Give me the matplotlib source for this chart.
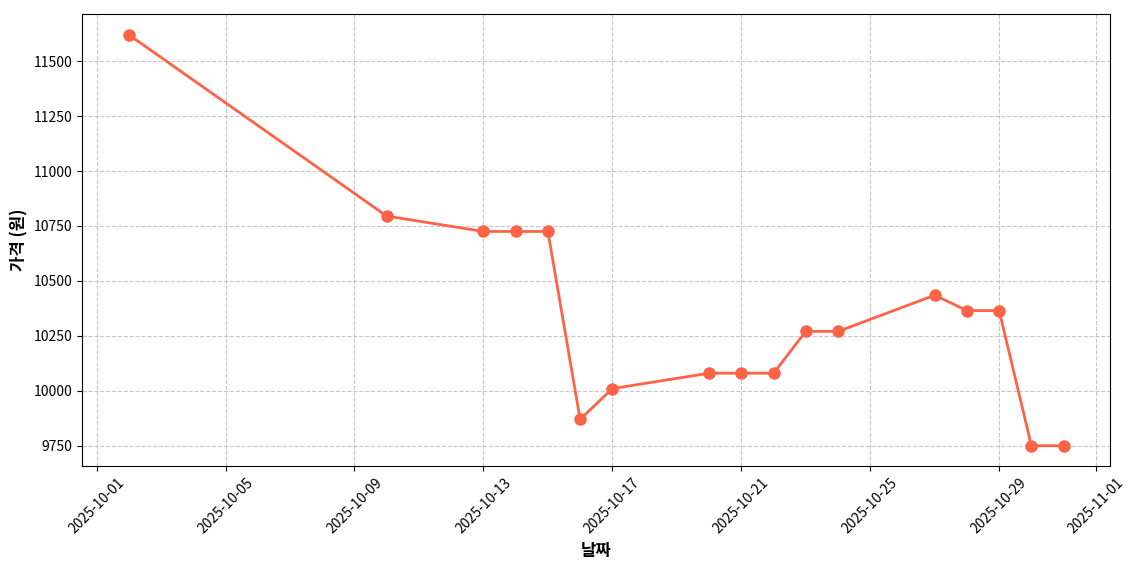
import matplotlib
matplotlib.use("Agg")
import matplotlib.pyplot as plt
import matplotlib.dates as mdates
import pandas as pd

plt.rcParams["font.family"] = ["Noto Sans CJK KR", "DejaVu Sans"]
plt.rcParams["axes.unicode_minus"] = False

dates = ["2025-10-02", "2025-10-10", "2025-10-13", "2025-10-14", "2025-10-15",
         "2025-10-16", "2025-10-17", "2025-10-20", "2025-10-21", "2025-10-22",
         "2025-10-23", "2025-10-24", "2025-10-27", "2025-10-28", "2025-10-29",
         "2025-10-30", "2025-10-31"]
prices = [11620, 10795, 10725, 10725, 10725,
          9870, 10010, 10080, 10080, 10080,
          10270, 10270, 10435, 10365, 10365,
          9750, 9750]

x = pd.to_datetime(dates)

fig, ax = plt.subplots(figsize=(11.4, 5.7), dpi=100)
ax.plot(x, prices, color="#FF6347", linewidth=2, marker="o", markersize=8)
ax.set_xlabel("날짜", fontsize=12, fontweight="bold")
ax.set_ylabel("가격 (원)", fontsize=12, fontweight="bold")
ax.grid(True, linestyle="--", alpha=0.7)
ax.xaxis.set_major_locator(mdates.DayLocator(bymonthday=[1, 5, 9, 13, 17, 21, 25, 29]))
ax.xaxis.set_major_formatter(mdates.DateFormatter("%Y-%m-%d"))
plt.setp(ax.get_xticklabels(), rotation=45)
fig.subplots_adjust(left=0.072, right=0.974, top=0.975, bottom=0.182)
fig.savefig("out.png")
